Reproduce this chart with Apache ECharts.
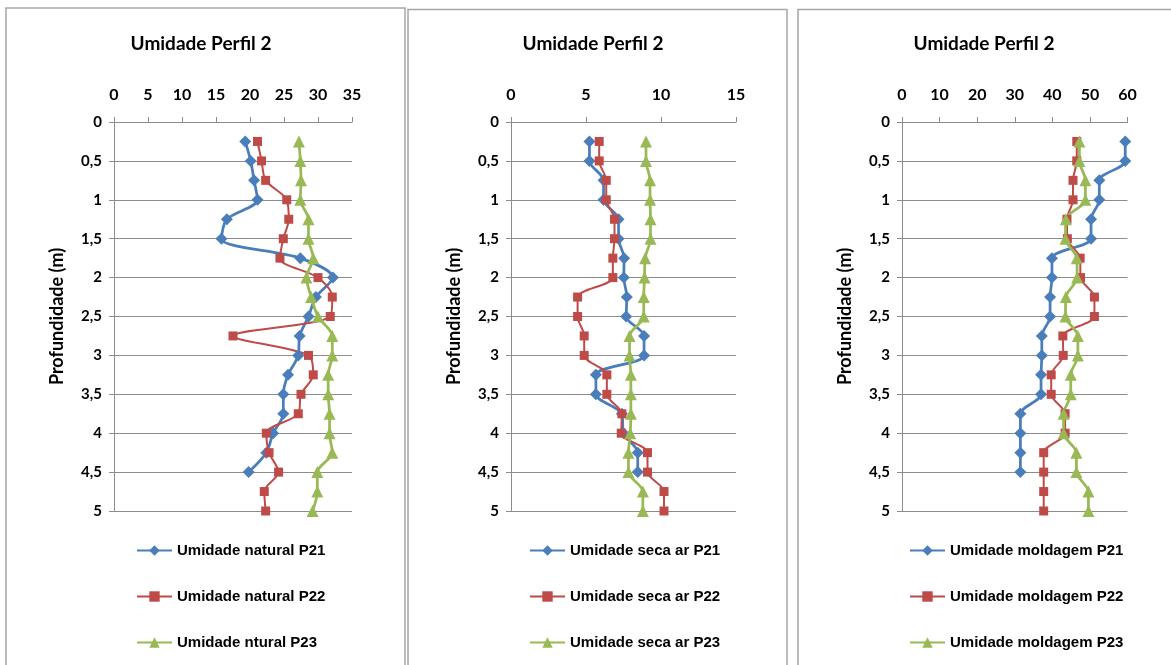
<!DOCTYPE html>
<html>
<head>
<meta charset="utf-8">
<script src="https://cdn.jsdelivr.net/npm/echarts@6/dist/echarts.min.js"></script>
<style>
  html, body { margin: 0; padding: 0; background: #ffffff; }
  #chart { width: 1171px; height: 665px; }
</style>
</head>
<body>
<div id="chart"></div>
<script>
// Profundidade (m) de cada amostra
const depths = [0.25, 0.5, 0.75, 1, 1.25, 1.5, 1.75, 2, 2.25, 2.5,
                2.75, 3, 3.25, 3.5, 3.75, 4, 4.25, 4.5, 4.75, 5];

// Umidade natural (%)
const naturalP21 = [19.3, 20.1, 20.6, 21.1, 16.6, 15.8, 27.4, 32.2, 29.7, 28.6,
                    27.3, 27.1, 25.6, 24.9, 24.9, 23.4, 22.4, 19.8];
const naturalP22 = [21.1, 21.7, 22.3, 25.4, 25.7, 24.9, 24.4, 30.0, 32.1, 31.8,
                    17.5, 28.6, 29.3, 27.5, 27.1, 22.4, 22.8, 24.2, 22.1, 22.3];
const naturalP23 = [27.2, 27.4, 27.5, 27.4, 28.6, 28.6, 29.3, 28.3, 29.0, 30.0,
                    32.1, 32.1, 31.5, 31.5, 31.7, 31.7, 32.1, 29.9, 29.9, 29.2];

// Umidade seca ao ar (%)
const secaP21 = [5.23, 5.23, 6.17, 6.17, 7.17, 7.17, 7.54, 7.52, 7.72, 7.68,
                 8.87, 8.87, 5.66, 5.66, 7.39, 7.5, 8.45, 8.45];
const secaP22 = [5.88, 5.88, 6.35, 6.35, 6.9, 6.9, 6.79, 6.79, 4.44, 4.44,
                 4.88, 4.88, 6.39, 6.39, 7.39, 7.35, 9.1, 9.1, 10.2, 10.2];
const secaP23 = [9.0, 9.0, 9.27, 9.27, 9.3, 9.3, 8.94, 8.9, 8.85, 8.85,
                 7.9, 7.9, 7.99, 7.99, 7.99, 7.95, 7.83, 7.83, 8.79, 8.79];

// Umidade de moldagem (%)
const moldagemP21 = [59.4, 59.4, 52.5, 52.5, 50.3, 50.3, 39.9, 39.9, 39.4, 39.4,
                     37.2, 37.2, 37.0, 37.0, 31.5, 31.5, 31.5, 31.5];
const moldagemP22 = [46.5, 46.5, 45.5, 45.5, 43.9, 44.0, 47.4, 47.5, 51.2, 51.2,
                     42.8, 42.9, 39.7, 39.7, 43.4, 43.4, 37.7, 37.7, 37.7, 37.7];
const moldagemP23 = [47.2, 47.2, 48.8, 48.8, 43.6, 43.5, 46.5, 46.6, 43.6, 43.5,
                     46.8, 46.8, 44.9, 44.9, 43.0, 43.0, 46.4, 46.4, 49.6, 49.6];

// Eixos horizontais de cada painel
const xMax = [35, 15, 60];
const xInterval = [5, 5, 10];

const chartTitle = 'Umidade Perfil 2';
const depthAxisName = 'Profundidade (m)';

const panels = [
  { names: ['Umidade natural P21', 'Umidade natural P22', 'Umidade ntural P23'],
    values: [naturalP21, naturalP22, naturalP23] },
  { names: ['Umidade seca ar P21', 'Umidade seca ar P22', 'Umidade seca ar P23'],
    values: [secaP21, secaP22, secaP23] },
  { names: ['Umidade moldagem P21', 'Umidade moldagem P22', 'Umidade moldagem P23'],
    values: [moldagemP21, moldagemP22, moldagemP23] }
];

// Layout of the three framed panels
const frames = [
  { x: 6, y: 8, w: 399 },
  { x: 408, y: 9.5, w: 379 },
  { x: 798, y: 9.5, w: 420 }
];
const grids = [
  { left: 114, width: 238 },
  { left: 511, width: 225 },
  { left: 902, width: 225.5 }
];
const titleCenters = [201, 593, 984];
const legendLefts = [131, 524, 904];

const colors = ['#4A7EBB', '#BE4B48', '#98B954'];
const symbols = ['diamond', 'rect', 'triangle'];
const symbolSizes = [12, 9, 12];

const labelFont = { fontFamily: 'Lato', fontWeight: 'bold', fontSize: 15, color: '#000' };
const gridGray = '#8c8c8c';

const option = {
  animation: false,
  backgroundColor: '#ffffff',
  grid: [], xAxis: [], yAxis: [], series: [], legend: [], graphic: []
};

panels.forEach((p, k) => {
  option.grid.push({ left: grids[k].left, width: grids[k].width, top: 122, height: 389 });
  option.xAxis.push({
    type: 'value', gridIndex: k, position: 'top', min: 0, max: xMax[k], interval: xInterval[k],
    axisLine: { show: true, lineStyle: { color: gridGray, width: 1 } },
    axisTick: { show: true, length: 5, lineStyle: { color: gridGray } },
    axisLabel: Object.assign({ margin: 19 }, labelFont, { fontSize: 16 }),
    splitLine: { show: false }
  });
  option.yAxis.push({
    type: 'value', gridIndex: k, inverse: true, min: 0, max: 5, interval: 0.5,
    name: depthAxisName, nameLocation: 'middle', nameGap: 48, nameRotate: 90,
    nameTextStyle: Object.assign({}, labelFont, { fontSize: 18 }),
    axisLine: { show: true, lineStyle: { color: gridGray, width: 1 } },
    axisTick: { show: true, length: 5, lineStyle: { color: gridGray } },
    axisLabel: Object.assign({ margin: 12, formatter: v => String(v).replace('.', ',') }, labelFont),
    splitLine: { show: true, lineStyle: { color: gridGray, width: 1 } }
  });
  p.names.forEach((name, s) => {
    const vals = p.values[s];
    option.series.push({
      type: 'line', name, xAxisIndex: k, yAxisIndex: k,
      data: vals.map((v, i) => [v, depths[i]]),
      smooth: 0.3,
      color: colors[s],
      symbol: symbols[s], symbolSize: symbolSizes[s],
      lineStyle: { width: s === 1 ? 2 : 2.75, color: colors[s] },
      itemStyle: { color: colors[s] }
    });
  });
  option.legend.push({
    orient: 'vertical', left: legendLefts[k], top: 538,
    itemWidth: 35, itemHeight: 13, itemGap: 31,
    data: p.names,
    textStyle: { fontFamily: 'Liberation Sans', fontWeight: 'bold', fontSize: 15, color: '#000' }
  });
  option.graphic.push({
    type: 'rect', silent: true,
    shape: { x: frames[k].x, y: frames[k].y, width: frames[k].w, height: 700 },
    style: { fill: 'none', stroke: '#a6a6a6', lineWidth: 1.5 }
  });
  option.graphic.push({
    type: 'text', silent: true, x: titleCenters[k], y: 44,
    style: { text: chartTitle, textAlign: 'center', textVerticalAlign: 'middle',
             font: 'bold 19px Lato', fill: '#000' }
  });
});

const chart = echarts.init(document.getElementById('chart'), null, { renderer: 'canvas' });
chart.setOption(option);
</script>
</body>
</html>
